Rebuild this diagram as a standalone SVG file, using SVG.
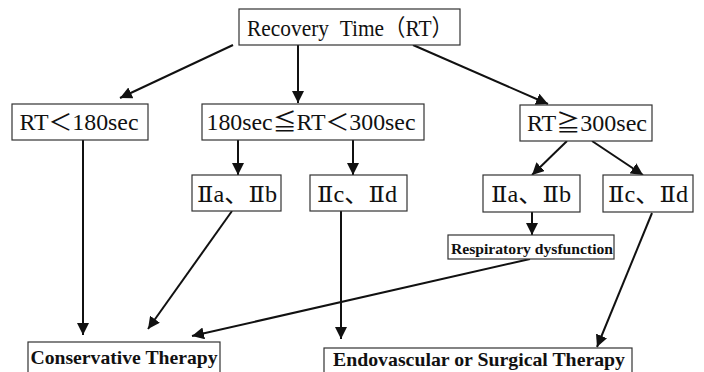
<svg xmlns="http://www.w3.org/2000/svg" width="704" height="372" viewBox="0 0 704 372">
<style>
.box{fill:#fff;stroke:#333;stroke-width:1.2}
.t{font-family:"Liberation Serif","DejaVu Serif","Noto Sans CJK JP",serif;font-size:23px;fill:#111;text-anchor:middle}
.b{font-family:"Liberation Serif","DejaVu Serif",serif;font-weight:bold;fill:#111;text-anchor:middle}
.c{stroke:#111;stroke-width:2;fill:none;marker-end:url(#ah)}
</style>
<defs>
<marker id="ah" markerUnits="userSpaceOnUse" markerWidth="14" markerHeight="12" refX="12" refY="6" orient="auto">
<path d="M0,0 L12,6 L0,12 Z" fill="#111"/>
</marker>
</defs>
<rect width="704" height="372" fill="#fff"/>
<g id="connectors">
<line class="c" x1="233" y1="45" x2="120" y2="98"/>
<line class="c" x1="298" y1="45" x2="298" y2="103"/>
<line class="c" x1="413" y1="45" x2="548" y2="104"/>
<line class="c" x1="83" y1="140" x2="83" y2="335"/>
<line class="c" x1="238" y1="140" x2="238" y2="175"/>
<line class="c" x1="353" y1="140" x2="353" y2="175"/>
<line class="c" x1="567" y1="141" x2="532" y2="175"/>
<line class="c" x1="592" y1="141" x2="643" y2="175"/>
<line class="c" x1="232" y1="211" x2="148" y2="329"/>
<line class="c" x1="341" y1="211" x2="341" y2="339"/>
<line class="c" x1="532" y1="212" x2="532" y2="235"/>
<line class="c" x1="530" y1="259" x2="192" y2="336"/>
<line class="c" x1="652" y1="213" x2="597" y2="347"/>
</g>
<g id="n_rt">
<rect class="box" x="239" y="9" width="221" height="36"/>
<text class="t" x="350" y="36" textLength="206" lengthAdjust="spacingAndGlyphs">Recovery&#160;&#160;Time（RT）</text>
</g>
<g id="n_lt180">
<rect class="box" x="12" y="104" width="136" height="36"/>
<text class="t" x="79" y="130" textLength="119" lengthAdjust="spacingAndGlyphs">RT＜180sec</text>
</g>
<g id="n_mid">
<rect class="box" x="202" y="104" width="222" height="36"/>
<text class="t" x="311" y="130" textLength="209" lengthAdjust="spacingAndGlyphs">180sec≦RT＜300sec</text>
</g>
<g id="n_ge300">
<rect class="box" x="520" y="105" width="132" height="36"/>
<text class="t" x="587" y="131" textLength="120" lengthAdjust="spacingAndGlyphs">RT≧300sec</text>
</g>
<g id="n_mid_ab">
<rect class="box" x="192" y="175" width="89" height="36"/>
<text class="t" x="237" y="202" textLength="80" lengthAdjust="spacingAndGlyphs">Ⅱa、Ⅱb</text>
</g>
<g id="n_mid_cd">
<rect class="box" x="310" y="175" width="97" height="36"/>
<text class="t" x="357" y="202" textLength="80" lengthAdjust="spacingAndGlyphs">Ⅱc、Ⅱd</text>
</g>
<g id="n_ge_ab">
<rect class="box" x="483" y="175" width="97" height="37"/>
<text class="t" x="531" y="202" textLength="80" lengthAdjust="spacingAndGlyphs">Ⅱa、Ⅱb</text>
</g>
<g id="n_ge_cd">
<rect class="box" x="603" y="175" width="90" height="37"/>
<text class="t" x="648" y="202" textLength="80" lengthAdjust="spacingAndGlyphs">Ⅱc、Ⅱd</text>
</g>
<g id="n_resp">
<rect class="box" x="448" y="235" width="166" height="24"/>
<text class="b" x="532" y="254" font-size="14" textLength="162" lengthAdjust="spacingAndGlyphs">Respiratory dysfunction</text>
</g>
<g id="n_cons">
<rect class="box" x="28" y="342" width="192" height="34"/>
<text class="b" x="124" y="364" font-size="19" textLength="187" lengthAdjust="spacingAndGlyphs">Conservative Therapy</text>
</g>
<g id="n_endo">
<rect class="box" x="324" y="348" width="308" height="30"/>
<text class="b" x="479" y="366" font-size="19" textLength="292" lengthAdjust="spacingAndGlyphs">Endovascular or Surgical Therapy</text>
</g>
</svg>
